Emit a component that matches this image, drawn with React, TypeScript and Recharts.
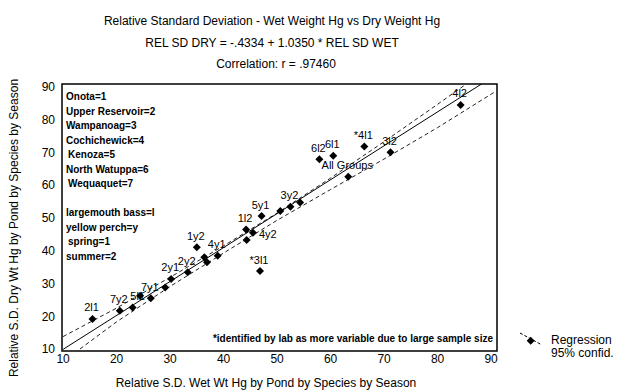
import React from 'react';
import { ScatterChart, Scatter, XAxis, YAxis, ReferenceArea, LabelList, Legend } from 'recharts';

const FONT = '"Liberation Sans", Arial, sans-serif';

// relative SD of wet weight Hg (x) vs dry weight Hg (y), one per pond/species/season group
const wetSD = [15.5, 20.6, 23.0, 24.4, 26.4, 29.1, 30.2, 33.3, 35.0, 36.4, 36.9, 38.9, 44.3, 44.2, 45.5, 46.8, 47.1, 50.6, 52.5, 54.3, 57.9, 60.5, 63.3, 66.3, 71.2, 84.3];
const drySD = [19.2, 21.7, 22.7, 26.3, 25.5, 28.8, 31.4, 33.4, 41.1, 38.0, 36.5, 38.5, 43.3, 46.5, 45.5, 33.8, 50.6, 52.1, 53.4, 54.7, 67.9, 69.0, 62.6, 71.8, 70.1, 84.5];
const pointLabels = ['2l1', '7y2', '5l1', '', '7y1', '', '2y1', '2y2', '1y2', '', '', '4y1', '', '1l2', '4y2', '*3l1', '5y1', '', '3y2', '', '6l2', '6l1', 'All Groups', '*4l1', '3l2', '4l2'];

// regression line ends and 95% confidence band
const fitX = [10, 91.1];
const fitY = [9.9, 93.9];
const bandX = [10, 20, 30, 40, 50, 60, 70, 80, 91];
const upperBand = [13.8, 22.5, 31.9, 41.5, 51.5, 62.2, 73.3, 84.7, 97.4];
const lowerBand = [6.2, 18.3, 29.1, 39.3, 49.3, 58.7, 68.0, 77.6, 88.8];

const xTicks = [10, 20, 30, 40, 50, 60, 70, 80, 90];
const yTicks = [10, 20, 30, 40, 50, 60, 70, 80, 90];

const pondKey = ['Onota=1', 'Upper Reservoir=2', 'Wampanoag=3', 'Cochichewick=4', 'Kenoza=5', 'North Watuppa=6', 'Wequaquet=7'];
const speciesKey = ['largemouth bass=l', 'yellow perch=y'];
const seasonKey = ['spring=1', 'summer=2'];

const X_DOMAIN = [9.8, 91.1];
const Y_DOMAIN = [9.4, 90.9];

const points = wetSD.map((x, i) => ({ x, y: drySD[i], label: pointLabels[i] }));
const fitData = fitX.map((x, i) => ({ x, y: fitY[i] }));
const upperData = bandX.map((x, i) => ({ x, y: upperBand[i] }));
const lowerData = bandX.map((x, i) => ({ x, y: lowerBand[i] }));

const Diamond = (props: any) => {
  const { cx, cy } = props;
  const r = 4;
  return <polygon points={`${cx},${cy - r} ${cx + r},${cy} ${cx},${cy + r} ${cx - r},${cy}`} fill="#000" />;
};

const NoShape = () => <g />;

// point label sits centred just above its diamond; a couple of crowded ones are pushed aside
const PointLabel = (props: any) => {
  const { x, y, width, height, value } = props;
  if (!value) return null;
  const cx = x + width / 2;
  const cy = y + height / 2;
  if (value === '4y2') {
    return (
      <text x={cx + 6} y={cy + 5} textAnchor="start" fontSize={11} fontFamily={FONT} fill="#000">{value}</text>
    );
  }
  const dx = value === '5l1' ? 5 : -1;
  return (
    <text x={cx + dx} y={y - 3} textAnchor="middle" fontSize={11} fontFamily={FONT} fill="#000">
      {value}
    </text>
  );
};

const renderLegend = () => (
  <div style={{ position: 'relative', width: 111, height: 36, fontFamily: FONT }}>
    <svg width={32} height={26} style={{ position: 'absolute', left: 0, top: 0 }}>
      <line x1={5} y1={5} x2={27} y2={17} stroke="#000" strokeWidth={1} strokeDasharray="3 2" />
      <polygon points="15.7,8.7 19.7,12.7 15.7,16.7 11.7,12.7" fill="#000" />
    </svg>
    <div style={{ position: 'absolute', left: 36, top: 6, fontSize: 12, lineHeight: '13px', color: '#000', whiteSpace: 'nowrap' }}>
      <div>Regression</div>
      <div>95% confid.</div>
    </div>
  </div>
);

const keyLine = (text: string) => (
  <div key={text} style={{ height: 14.5, paddingLeft: text.startsWith('Kenoza') || text.startsWith('Wequaquet') || text.startsWith('spring') ? 2 : 0 }}>{text}</div>
);

export default function App() {
  const tick = { fill: '#000', fontSize: 12, fontFamily: FONT };
  return (
    <div style={{ position: 'absolute', left: 0, top: 0, width: 626, height: 392, background: '#fff', overflow: 'hidden', fontFamily: FONT, color: '#000' }}>
      <div style={{ position: 'absolute', left: 0, width: 544, top: 14, textAlign: 'center', fontSize: 12, lineHeight: '14px' }}>
        Relative Standard Deviation - Wet Weight Hg vs Dry Weight Hg
      </div>
      <div style={{ position: 'absolute', left: 0, width: 544, top: 36, textAlign: 'center', fontSize: 12, lineHeight: '14px' }}>
        REL SD DRY = -.4334 + 1.0350 * REL SD WET
      </div>
      <div style={{ position: 'absolute', left: 0, width: 552, top: 57, textAlign: 'center', fontSize: 12, lineHeight: '14px' }}>
        Correlation: r = .97460
      </div>

      <ScatterChart width={626} height={392} margin={{ top: 84, right: 129, bottom: 0, left: 0 }}>
        <XAxis
          type="number"
          dataKey="x"
          domain={X_DOMAIN}
          ticks={xTicks}
          allowDataOverflow
          height={41}
          axisLine={false}
          tickLine={false}
          tickSize={0}
          tickMargin={3}
          tick={tick}
        />
        <YAxis
          type="number"
          dataKey="y"
          domain={Y_DOMAIN}
          ticks={yTicks}
          allowDataOverflow
          width={62}
          axisLine={false}
          tickLine={false}
          tickSize={0}
          tickMargin={7}
          tick={tick}
        />
        <ReferenceArea x1={X_DOMAIN[0]} x2={X_DOMAIN[1]} y1={Y_DOMAIN[0]} y2={Y_DOMAIN[1]} fill="none" stroke="#000" strokeWidth={1.5} />
        <Scatter data={upperData} line={{ stroke: '#222', strokeWidth: 1, strokeDasharray: '4 3' }} shape={NoShape} legendType="none" isAnimationActive={false} />
        <Scatter data={lowerData} line={{ stroke: '#222', strokeWidth: 1, strokeDasharray: '4 3' }} shape={NoShape} legendType="none" isAnimationActive={false} />
        <Scatter data={fitData} line={{ stroke: '#000', strokeWidth: 1 }} shape={NoShape} legendType="none" isAnimationActive={false} />
        <Scatter data={points} shape={Diamond} isAnimationActive={false}>
          <LabelList dataKey="label" content={PointLabel} />
        </Scatter>
        <Legend
          layout="vertical"
          align="center"
          verticalAlign="middle"
          wrapperStyle={{ left: 515, top: 328, width: 111, height: 36 }}
          content={renderLegend}
        />
      </ScatterChart>

      <div style={{ position: 'absolute', left: 66, top: 90, fontSize: 10, fontWeight: 'bold', lineHeight: '14.5px', whiteSpace: 'nowrap' }}>
        {pondKey.map(keyLine)}
        <div style={{ height: 14.5 }} />
        {speciesKey.map(keyLine)}
        {seasonKey.map(keyLine)}
      </div>

      <div style={{ position: 'absolute', left: 0, width: 493, top: 333, textAlign: 'right', fontSize: 10, fontWeight: 'bold', whiteSpace: 'nowrap' }}>
        *identified by lab as more variable due to large sample size
      </div>

      <div style={{ position: 'absolute', left: 0, width: 532, top: 376, textAlign: 'center', fontSize: 12, lineHeight: '14px' }}>
        Relative S.D. Wet Wt Hg by Pond by Species by Season
      </div>
      <div style={{ position: 'absolute', left: 14 - 200, top: 228 - 7, width: 400, textAlign: 'center', fontSize: 12, lineHeight: '14px', transform: 'rotate(-90deg)', whiteSpace: 'nowrap' }}>
        Relative S.D. Dry Wt Hg by Pond by Species by Season
      </div>
    </div>
  );
}
